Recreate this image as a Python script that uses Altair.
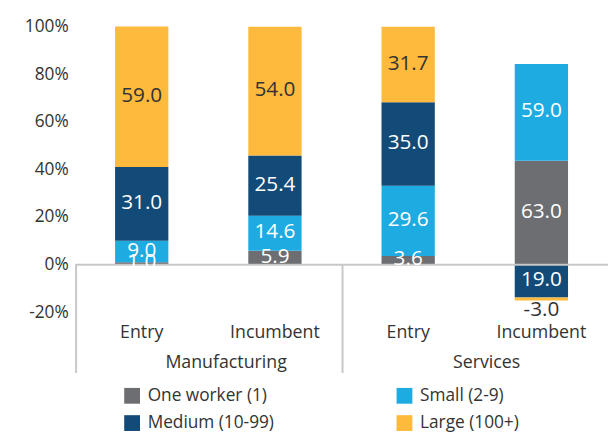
import altair as alt
import pandas as pd

# ---- data ----
sectors = ["Manufacturing", "Manufacturing", "Services", "Services"]
firm_types = ["Entry", "Incumbent", "Entry", "Incumbent"]
size_classes = ["One worker (1)", "Small (2-9)", "Medium (10-99)", "Large (100+)"]

# segment heights as drawn (percent)
one_worker = [1.0, 5.9, 3.6, 43.7]
small = [9.0, 14.6, 29.6, 40.6]
medium = [31.0, 25.4, 35.0, -13.8]
large = [59.0, 54.0, 31.7, -1.2]

# data labels as printed on the chart
one_worker_lbl = [1.0, 5.9, 3.6, 63.0]
small_lbl = [9.0, 14.6, 29.6, 59.0]
medium_lbl = [31.0, 25.4, 35.0, 19.0]
large_lbl = [59.0, 54.0, 31.7, -3.0]

group_names = ["Manufacturing", "Services"]

colors = ["#6d6e71", "#1eabe2", "#124a78", "#fdba3c"]
text_dark = "#333333"

heights = [one_worker, small, medium, large]
labels = [one_worker_lbl, small_lbl, medium_lbl, large_lbl]
cats = [f"{s} {t}" for s, t in zip(sectors, firm_types)]

rows = []
for i, cat in enumerate(cats):
    pos, neg = 0.0, 0.0
    for k, size in enumerate(size_classes):
        h = heights[k][i]
        if h >= 0:
            y0, y1 = pos, pos + h
            pos = y1
        else:
            y0, y1 = neg, neg + h
            neg = y1
        outside = (h < 0) and (abs(h) < 2)
        rows.append({
            "cat": cat, "size": size, "order": k, "y0": y0, "y1": y1,
            "mid": (y0 + y1) / 2, "label": f"{labels[k][i]:.1f}",
            "tcolor": text_dark if (size == "Large (100+)" or outside) else "#ffffff",
            "outside": outside,
        })
df = pd.DataFrame(rows)
cat_df = pd.DataFrame({"cat": cats, "type": firm_types})
one_row = pd.DataFrame({"k": [0]})

W, H = 540, 351
line_color = "#c8c8c8"

xscale = alt.Scale(domain=cats, paddingInner=0.6, paddingOuter=0.3)
yscale = alt.Scale(domain=[-45.5, 100], nice=False, zero=False)

bars = alt.Chart(df).mark_bar().encode(
    x=alt.X("cat:N", scale=xscale, axis=None),
    y=alt.Y("y0:Q", scale=yscale,
            axis=alt.Axis(values=[-20, 0, 20, 40, 60, 80, 100],
                          labelExpr="datum.value + '%'", domain=False,
                          ticks=False, grid=False, labelPadding=7,
                          labelFontSize=17.5, labelColor=text_dark, title=None)),
    y2="y1:Q",
    color=alt.Color("size:N", scale=alt.Scale(domain=size_classes, range=colors),
                    legend=alt.Legend(title=None, orient="none", legendX=49, legendY=365,
                                      direction="horizontal",
                                      columns=2, symbolType="square", symbolSize=256,
                                      symbolStrokeWidth=0, labelFontSize=17.5,
                                      labelColor=text_dark, labelOffset=7,
                                      columnPadding=123, rowPadding=9)),
)

zero_line = alt.Chart(one_row).mark_rule(color=line_color, strokeWidth=2).encode(
    y=alt.datum(0)
)

sep1 = alt.Chart(one_row).mark_rule(color=line_color, strokeWidth=2).encode(
    x=alt.value(1), y=alt.datum(0), y2=alt.value(H)
)
sep2 = alt.Chart(one_row).mark_rule(color=line_color, strokeWidth=2).encode(
    x=alt.value(271), y=alt.datum(0), y2=alt.value(H)
)

in_labels = alt.Chart(df).transform_filter("!datum.outside").mark_text(
    fontSize=21, baseline="middle", dy=-1
).encode(
    x=alt.X("cat:N", scale=xscale, axis=None),
    y=alt.Y("mid:Q", scale=yscale),
    text="label:N",
    color=alt.Color("tcolor:N", scale=None),
)

out_labels = alt.Chart(df).transform_filter("datum.outside").mark_text(
    fontSize=21, baseline="middle", dy=10
).encode(
    x=alt.X("cat:N", scale=xscale, axis=None),
    y=alt.Y("y1:Q", scale=yscale),
    text="label:N",
    color=alt.Color("tcolor:N", scale=None),
)

cat_labels = alt.Chart(cat_df).mark_text(
    fontSize=18, baseline="middle", color=text_dark
).encode(
    x=alt.X("cat:N", scale=xscale, axis=None),
    y=alt.value(311),
    text="type:N",
)

grp1 = alt.Chart(one_row).mark_text(fontSize=18, baseline="middle", color=text_dark,
                                    text=group_names[0]).encode(
    x=alt.value(153), y=alt.value(341))
grp2 = alt.Chart(one_row).mark_text(fontSize=18, baseline="middle", color=text_dark,
                                    text=group_names[1]).encode(
    x=alt.value(417), y=alt.value(341))

chart = alt.layer(
    bars, zero_line, sep1, sep2, in_labels, out_labels, cat_labels, grp1, grp2
).properties(
    width=W, height=H,
    autosize=alt.AutoSizeParams(type="none"),
    padding={"left": 68, "top": 16, "right": 0, "bottom": 62},
).configure(font="Open Sans").configure_view(stroke=None)

chart.save("out.html", embed_options={"renderer": "svg", "actions": False})
